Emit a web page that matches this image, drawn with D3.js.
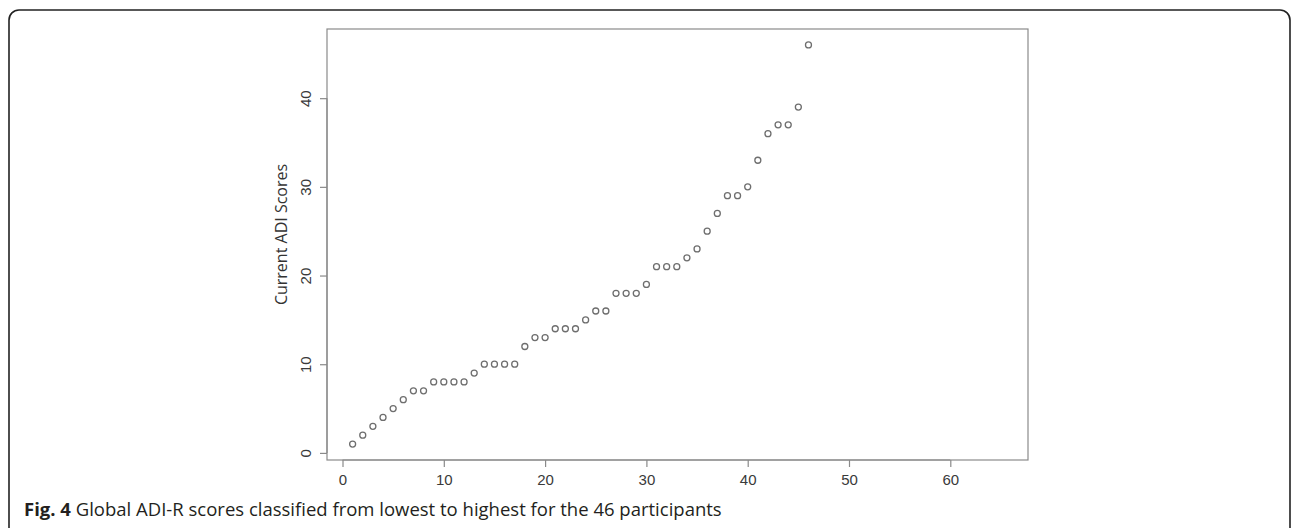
<!DOCTYPE html>
<html>
<head>
<meta charset="utf-8">
<script src="https://cdn.jsdelivr.net/npm/d3@7"></script>
<style>
  html, body { margin: 0; padding: 0; background: #fff; }
  svg { display: block; }
</style>
</head>
<body>
<svg id="chart" width="1293" height="528"></svg>
<script>
// Data: participant rank (1..46) and Current ADI score, sorted low to high
const participants = d3.range(1, 47);
const scores = [1, 2, 3, 4, 5, 6, 7, 7, 8, 8, 8, 8, 9, 10, 10, 10, 10, 12, 13, 13,
                14, 14, 14, 15, 16, 16, 18, 18, 18, 19, 21, 21, 21, 22, 23, 25, 27, 29, 29, 30,
                33, 36, 37, 37, 39, 46];
const xTicks = [0, 10, 20, 30, 40, 50, 60];
const yTicks = [0, 10, 20, 30, 40];
const yTitle = "Current ADI Scores";
const captionBold = "Fig. 4";
const captionText = " Global ADI-R scores classified from lowest to highest for the 46 participants";

const svg = d3.select("#chart");

// Outer figure frame (rounded, open at bottom as in the crop)
svg.append("rect")
  .attr("x", 9).attr("y", 10)
  .attr("width", 1281).attr("height", 540)
  .attr("rx", 10).attr("ry", 10)
  .attr("fill", "none")
  .attr("stroke", "#222")
  .attr("stroke-width", 1.6);

const box = { left: 327, right: 1028, top: 29, bottom: 460 };

const x = d3.scaleLinear().domain([-1.53, 67.67]).range([box.left, box.right]);
const y = d3.scaleLinear().domain([-0.8, 47.8]).range([box.bottom, box.top]);

const axisColor = "#8a8a8a";
const labelColor = "#3a3a3a";
const tickFont = "'Liberation Sans', Arial, Helvetica, sans-serif";

// Plot box
svg.append("rect")
  .attr("x", box.left).attr("y", box.top)
  .attr("width", box.right - box.left).attr("height", box.bottom - box.top)
  .attr("fill", "none").attr("stroke", axisColor).attr("stroke-width", 1.2);

// X axis
const xAxis = svg.append("g")
  .attr("transform", `translate(0,${box.bottom})`)
  .call(d3.axisBottom(x).tickValues(xTicks).tickSize(7).tickPadding(7).tickFormat(d3.format("d")));
xAxis.select(".domain").attr("stroke", axisColor).attr("stroke-width", 1.2)
  .attr("d", `M${x(0)},0H${x(60)}`);
xAxis.selectAll(".tick line").attr("stroke", axisColor).attr("stroke-width", 1.2);
xAxis.selectAll(".tick text")
  .attr("fill", labelColor)
  .style("font-family", tickFont)
  .style("font-size", "15px");

// Y axis (R-style rotated labels)
const yAxis = svg.append("g")
  .attr("transform", `translate(${box.left},0)`)
  .call(d3.axisLeft(y).tickValues(yTicks).tickSize(7).tickPadding(0).tickFormat(d3.format("d")));
yAxis.select(".domain").attr("stroke", axisColor).attr("stroke-width", 1.2)
  .attr("d", `M0,${y(0)}V${y(40)}`);
yAxis.selectAll(".tick line").attr("stroke", axisColor).attr("stroke-width", 1.2);
yAxis.selectAll(".tick text")
  .attr("fill", labelColor)
  .attr("x", null)
  .attr("text-anchor", "middle")
  .attr("transform", "translate(-21,0) rotate(-90)")
  .attr("dy", "0.35em")
  .style("font-family", tickFont)
  .style("font-size", "15px");

// Y title
svg.append("text")
  .attr("transform", `translate(281,${(box.top + box.bottom) / 2 - 10}) rotate(-90)`)
  .attr("text-anchor", "middle")
  .attr("dy", "0.35em")
  .attr("fill", "#333")
  .style("font-family", "'Open Sans', sans-serif")
  .style("font-size", "16px")
  .text(yTitle);

// Points
svg.append("g").selectAll("circle")
  .data(scores)
  .join("circle")
  .attr("cx", (d, i) => x(participants[i]))
  .attr("cy", d => y(d))
  .attr("r", 3)
  .attr("fill", "none")
  .attr("stroke", "#6e6e6e")
  .attr("stroke-width", 1.3);

// Caption
const cap = svg.append("text")
  .attr("x", 24).attr("y", 516)
  .attr("fill", "#231f20")
  .style("font-family", "'Open Sans', sans-serif")
  .style("font-size", "18.5px");
cap.append("tspan").attr("font-weight", "bold").text(captionBold);
cap.append("tspan").text(captionText);
</script>
</body>
</html>
